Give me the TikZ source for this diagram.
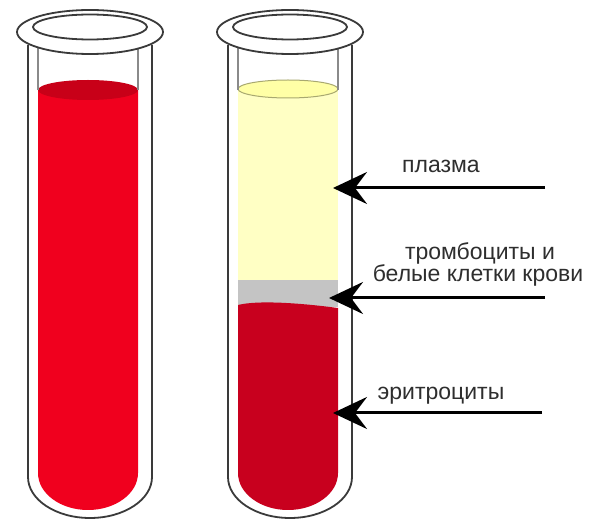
\documentclass[tikz,border=0pt]{standalone}
\usepackage{fontspec}
\setmainfont{Liberation Sans}
\usetikzlibrary{arrows.meta}

\definecolor{wholeblood}{HTML}{F0001E}
\definecolor{wholebloodtop}{HTML}{C80018}
\definecolor{plasma}{HTML}{FFFFC4}
\definecolor{plasmatop}{HTML}{FFFFA6}
\definecolor{plasmarim}{HTML}{A8A870}
\definecolor{buffy}{HTML}{C4C4C4}
\definecolor{redcells}{HTML}{C8001E}
\definecolor{glass}{HTML}{3A3A3A}
\definecolor{glassinner}{HTML}{8A8A8A}
\definecolor{labelink}{HTML}{2E2E2E}

\tikzset{
  glassline/.style={draw=glass, line width=1.8pt},
  innerline/.style={draw=glassinner, line width=1.2pt},
  rimline/.style={draw=glass, line width=1.8pt, fill=white},
  pointer/.style={draw=black, line width=3pt,
    -{Stealth[length=34pt, width=32pt, inset=12pt]}},
  caption/.style={text=labelink, inner sep=0pt, anchor=base,
    font=\fontsize{23}{27}\selectfont},
  pics/testtube/.style={code={
    % glass walls with rounded bottom
    \draw[glassline] (28,45) -- (28,477)
      arc[start angle=180, end angle=360, x radius=62pt, y radius=41pt]
      -- (152,45);
    % inner wall lines above the contents
    \draw[innerline] (38,45) -- (38,90);
    \draw[innerline] (138,45) -- (138,90);
    % lip of the tube
    \path[rimline] (90,32) ellipse[x radius=73pt, y radius=22pt];
    \draw[glassline] (90,27) ellipse[x radius=57pt, y radius=12.5pt];
  }}
}

\begin{document}
\begin{tikzpicture}[x=1pt, y=-1pt]
\useasboundingbox (0,0) rectangle (590,521);
\fill[white] (0,0) rectangle (590,521);

% ---- whole blood tube ----
\fill[wholeblood] (38,90) -- (38,473)
  arc[start angle=180, end angle=360, x radius=50pt, y radius=37pt]
  -- (138,90) -- cycle;
\fill[wholebloodtop] (88,90) ellipse[x radius=50pt, y radius=10pt];
\pic (tubeA) at (0,0) {testtube};

% ---- separated blood tube ----
\fill[plasma] (238,89) rectangle (338,282);
\fill[plasmatop] (288,89) ellipse[x radius=50pt, y radius=9pt];
\draw[plasmarim, line width=1pt] (288,89) ellipse[x radius=50pt, y radius=9pt];
\fill[buffy] (238,280) rectangle (338,307);
\fill[redcells] (238,305) .. controls (258,300) and (300,303) .. (338,308)
  -- (338,473)
  arc[start angle=0, end angle=-180, x radius=50pt, y radius=37pt]
  -- cycle;
\pic (tubeB) at (200,0) {testtube};

% ---- pointers ----
\coordinate (plasmaTail) at (545,188);
\coordinate (plasmaTip) at (333,188);
\coordinate (buffyTail) at (545,298);
\coordinate (buffyTip) at (329,298);
\coordinate (cellsTail) at (542,413);
\coordinate (cellsTip) at (333,413);
\draw[pointer] (plasmaTail) -- (plasmaTip);
\draw[pointer] (buffyTail) -- (buffyTip);
\draw[pointer] (cellsTail) -- (cellsTip);

% ---- captions ----
\node[caption] (plasmaText) at (441,173) {плазма};
\node[caption] (buffyTextA) at (480,260) {тромбоциты и};
\node[caption] (buffyTextB) at (478,282) {белые клетки крови};
\node[caption] (cellsText) at (441,400) {эритроциты};
\end{tikzpicture}
\end{document}
